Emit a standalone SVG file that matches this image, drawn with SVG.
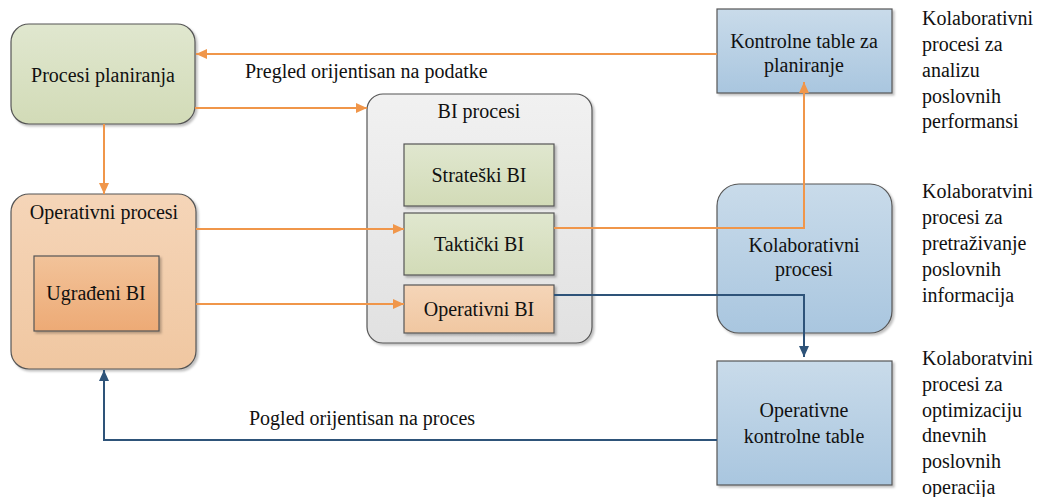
<svg xmlns="http://www.w3.org/2000/svg" width="1041" height="497" viewBox="0 0 1041 497" font-family="'Liberation Serif', 'Times New Roman', serif">
  <defs>
    <linearGradient id="gGreen" x1="0" y1="0" x2="0" y2="1">
      <stop offset="0" stop-color="#e0e7cf"/>
      <stop offset="1" stop-color="#d2dbb7"/>
    </linearGradient>
    <linearGradient id="gPeach" x1="0" y1="0" x2="0" y2="1">
      <stop offset="0" stop-color="#f5d5b8"/>
      <stop offset="1" stop-color="#f0c7a1"/>
    </linearGradient>
    <linearGradient id="gOrange" x1="0" y1="0" x2="0" y2="1">
      <stop offset="0" stop-color="#f2c39a"/>
      <stop offset="1" stop-color="#edaa75"/>
    </linearGradient>
    <linearGradient id="gBlue" x1="0" y1="0" x2="0" y2="1">
      <stop offset="0" stop-color="#c9dbea"/>
      <stop offset="1" stop-color="#a9c6df"/>
    </linearGradient>
    <linearGradient id="gGray" x1="0" y1="0" x2="0" y2="1">
      <stop offset="0" stop-color="#f1f1f1"/>
      <stop offset="1" stop-color="#e1e1e1"/>
    </linearGradient>
    <filter id="shadow" x="-10%" y="-10%" width="130%" height="130%">
      <feDropShadow dx="2" dy="2" stdDeviation="1.2" flood-color="#000" flood-opacity="0.25"/>
    </filter>
    <marker id="arrOrange" markerWidth="12" markerHeight="10" refX="11" refY="5" orient="auto" markerUnits="userSpaceOnUse">
      <path d="M0,0 L11,5 L0,10 Z" fill="#f0964a"/>
    </marker>
    <marker id="arrBlue" markerWidth="12" markerHeight="10" refX="11" refY="5" orient="auto" markerUnits="userSpaceOnUse">
      <path d="M0,0 L11,5 L0,10 Z" fill="#2e5379"/>
    </marker>
  </defs>
  <style>
    text { font-family: "Liberation Serif", "Times New Roman", serif; font-size: 20px; fill: #111; }
    .c { text-anchor: middle; }
    .box { stroke: #555; stroke-width: 1.2; filter: url(#shadow); }
    .orange { fill: none; stroke: #f0964a; stroke-width: 2; }
    .blue { fill: none; stroke: #2e5379; stroke-width: 2; }
  </style>

  <rect width="1041" height="497" fill="#ffffff"/>

  <!-- nodes -->
  <g id="procesi-planiranja">
    <rect class="box" x="11" y="24" width="184" height="100" rx="18" fill="url(#gGreen)"/>
    <text class="c" x="103" y="82">Procesi planiranja</text>
  </g>

  <g id="operativni-procesi">
    <rect class="box" x="11" y="194" width="185" height="175" rx="18" fill="url(#gPeach)"/>
    <text class="c" x="104" y="219">Operativni procesi</text>
  </g>

  <g id="ugradjeni-bi">
    <rect class="box" x="34" y="256" width="125" height="75" fill="url(#gOrange)"/>
    <text class="c" x="96" y="300">Ugrađeni BI</text>
  </g>

  <g id="bi-procesi">
    <rect class="box" x="367" y="94" width="225" height="249" rx="16" fill="url(#gGray)"/>
    <text class="c" x="479" y="118">BI procesi</text>
  </g>

  <g id="strateski-bi">
    <rect class="box" x="404" y="144" width="150" height="62" fill="url(#gGreen)"/>
    <text class="c" x="479" y="182">Strateški BI</text>
  </g>

  <g id="takticki-bi">
    <rect class="box" x="404" y="213" width="150" height="62" fill="url(#gGreen)"/>
    <text class="c" x="479" y="251">Taktički BI</text>
  </g>

  <g id="operativni-bi">
    <rect class="box" x="404" y="285" width="150" height="48" fill="url(#gPeach)"/>
    <text class="c" x="479" y="316">Operativni BI</text>
  </g>

  <g id="kontrolne-table-planiranje">
    <rect class="box" x="717" y="9" width="175" height="84" fill="url(#gBlue)"/>
    <text class="c" x="804" y="48">Kontrolne table za</text>
    <text class="c" x="804" y="72">planiranje</text>
  </g>

  <g id="kolaborativni-procesi">
    <rect class="box" x="717" y="184" width="175" height="149" rx="22" fill="url(#gBlue)"/>
    <text class="c" x="804" y="252">Kolaborativni</text>
    <text class="c" x="804" y="276">procesi</text>
  </g>

  <g id="operativne-kontrolne-table">
    <rect class="box" x="717" y="361" width="175" height="124" fill="url(#gBlue)"/>
    <text class="c" x="804" y="417">Operativne</text>
    <text class="c" x="804" y="443">kontrolne table</text>
  </g>

  <!-- connectors -->
  <g id="connectors">
    <path class="orange" d="M717,54 H196" marker-end="url(#arrOrange)"/>
    <path class="orange" d="M195,108 H367" marker-end="url(#arrOrange)"/>
    <path class="orange" d="M104,124 V194" marker-end="url(#arrOrange)"/>
    <path class="orange" d="M196,229 H404" marker-end="url(#arrOrange)"/>
    <path class="orange" d="M196,304 H404" marker-end="url(#arrOrange)"/>
    <path class="orange" d="M554,228 H804 V82" marker-end="url(#arrOrange)"/>
    <path class="blue" d="M554,295 H804 V357" marker-end="url(#arrBlue)"/>
    <path class="blue" d="M717,440 H104 V370" marker-end="url(#arrBlue)"/>
  </g>

  <!-- connector labels -->
  <g id="labels">
    <text x="245" y="78">Pregled orijentisan na podatke</text>
    <text x="249" y="425">Pogled orijentisan na proces</text>
  </g>

  <!-- side notes -->
  <g id="notes">
    <text x="922" y="25">Kolaborativni</text>
    <text x="922" y="51">procesi za</text>
    <text x="922" y="77">analizu</text>
    <text x="922" y="103">poslovnih</text>
    <text x="922" y="128">performansi</text>

    <text x="922" y="198">Kolaboratvini</text>
    <text x="922" y="224">procesi za</text>
    <text x="922" y="250">pretraživanje</text>
    <text x="922" y="276">poslovnih</text>
    <text x="922" y="302">informacija</text>

    <text x="922" y="365">Kolaboratvini</text>
    <text x="922" y="391">procesi za</text>
    <text x="922" y="417">optimizaciju</text>
    <text x="922" y="442">dnevnih</text>
    <text x="922" y="468">poslovnih</text>
    <text x="922" y="494">operacija</text>
  </g>
</svg>
